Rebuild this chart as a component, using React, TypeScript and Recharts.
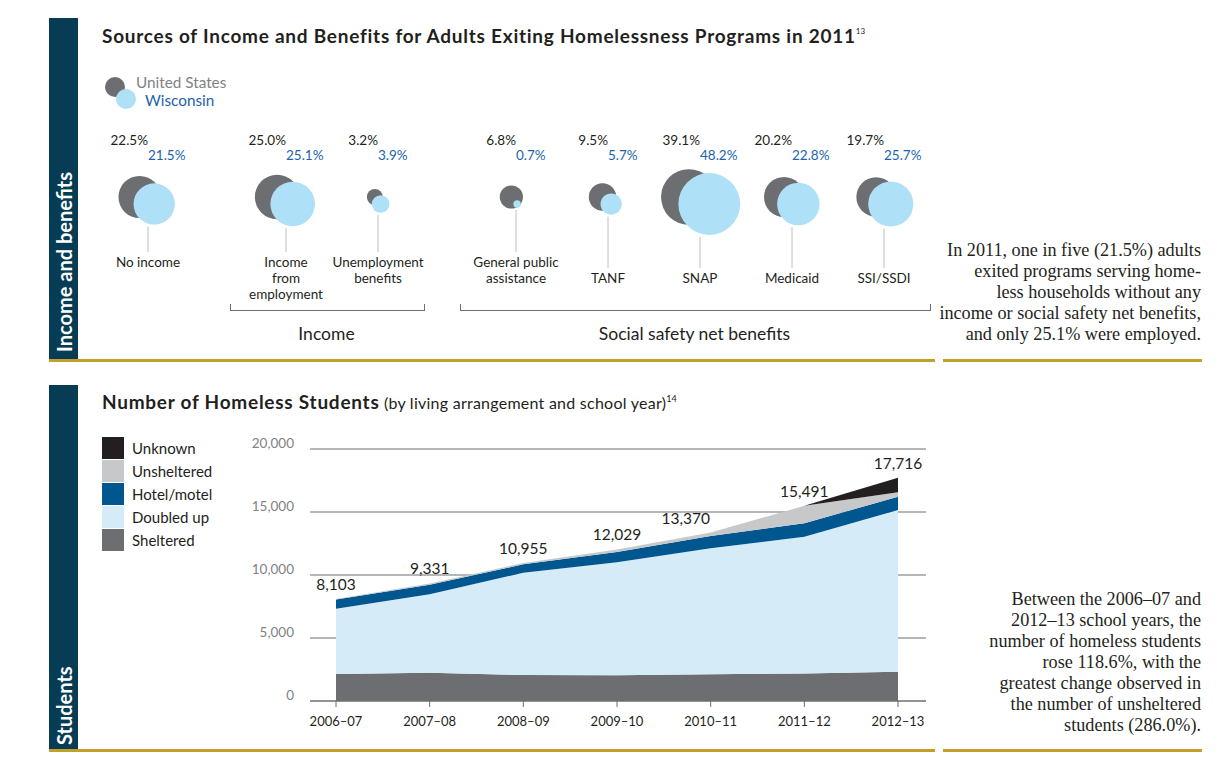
import React from 'react';
import {
  ScatterChart,
  Scatter,
  XAxis,
  YAxis,
  ZAxis,
  ComposedChart,
  Area,
  Line,
  LabelList,
  CartesianGrid,
} from 'recharts';

// --- Sources of income and benefits, 2011 (percent of adults exiting programs)
const CATEGORY_LINES = [
  ['No income'],
  ['Income', 'from', 'employment'],
  ['Unemployment', 'benefits'],
  ['General public', 'assistance'],
  ['TANF'],
  ['SNAP'],
  ['Medicaid'],
  ['SSI/SSDI'],
];
const CATEGORY_GROUP = [0, 1, 1, 2, 2, 2, 2, 2];
const GROUP_NAMES = ['', 'Income', 'Social safety net benefits'];
const US_PCT = [22.5, 25.0, 3.2, 6.8, 9.5, 39.1, 20.2, 19.7];
const WI_PCT = [21.5, 25.1, 3.9, 0.7, 5.7, 48.2, 22.8, 25.7];

// --- Homeless students by living arrangement and school year
const YEARS = ['2006–07', '2007–08', '2008–09', '2009–10', '2010–11', '2011–12', '2012–13'];
const SHELTERED = [2150, 2250, 2060, 2050, 2120, 2190, 2320];
const DOUBLED_UP = [5175, 6218, 8123, 8958, 9999, 10850, 12839];
const HOTEL_MOTEL = [730, 762, 666, 821, 976, 1063, 1055];
const UNSHELTERED = [48, 101, 106, 200, 275, 1388, 349];
const UNKNOWN = [0, 0, 0, 0, 0, 0, 1153];
const TOTALS = [8103, 9331, 10955, 12029, 13370, 15491, 17716];
const Y_TICKS = [0, 5000, 10000, 15000, 20000];

const TEAL = '#063c54';
const GOLD = '#c4a02b';
const INK = '#231f20';
const US_FILL = '#6d6e71';
const WI_FILL = '#aee0f7';
const WI_TEXT = '#1c63ad';

const SERIES = [
  { key: 'sheltered', name: 'Sheltered', color: '#6d6e71' },
  { key: 'doubled', name: 'Doubled up', color: '#d5ebf8' },
  { key: 'hotel', name: 'Hotel/motel', color: '#00568f' },
  { key: 'unsheltered', name: 'Unsheltered', color: '#c7c8ca' },
  { key: 'unknown', name: 'Unknown', color: '#231f20' },
];

const slotOf = (i: number) => i + 0.5 * CATEGORY_GROUP[i];
const usData = US_PCT.map((pct, i) => ({ slot: slotOf(i), row: 0.5, pct, idx: i }));
const wiData = WI_PCT.map((pct, i) => ({ slot: slotOf(i), row: 0.5, pct, idx: i }));

const studentData = YEARS.map((year, i) => ({
  year,
  sheltered: SHELTERED[i],
  doubled: DOUBLED_UP[i],
  hotel: HOTEL_MOTEL[i],
  unsheltered: UNSHELTERED[i],
  unknown: UNKNOWN[i],
  total: TOTALS[i],
}));

// bubble chart geometry (slot -> px), used for the brackets below the chart
const BUBBLE_LEFT = 148;
const SLOT_PX = 92;
const MAX_SLOT = slotOf(CATEGORY_LINES.length - 1);
const slotPx = (s: number) => BUBBLE_LEFT + SLOT_PX * s;

const pctText = (v: number) => `${v.toFixed(1)}%`;
const radiusOf = (p: any) =>
  p.width ? p.width / 2 : Math.sqrt(Math.max(p.size || 0, 0) / Math.PI);

const maxLines = (g: number) =>
  Math.max(...CATEGORY_LINES.filter((_, i) => CATEGORY_GROUP[i] === g).map((l) => l.length));

const UsBubble = (p: any) => {
  const r = radiusOf(p);
  return (
    <g>
      <circle cx={p.cx - 0.4 * r} cy={p.cy - 3} r={r} fill={US_FILL} />
      <text x={p.cx} y={p.cy - 55.5} textAnchor="end" fontSize={13.5} fill={INK}>
        {pctText(p.payload.pct)}
      </text>
    </g>
  );
};

const WiBubble = (p: any) => {
  const r = radiusOf(p);
  const i = p.payload.idx;
  const lines = CATEGORY_LINES[i];
  const g = CATEGORY_GROUP[i];
  const startRow = g === 2 ? maxLines(g) - lines.length : 0;
  const cx = p.cx;
  return (
    <g>
      <circle cx={cx + 0.3 * r} cy={p.cy + 4} r={r} fill={WI_FILL} />
      <text x={cx} y={p.cy - 40.5} textAnchor="start" fontSize={13.5} fill={WI_TEXT}>
        {pctText(p.payload.pct)}
      </text>
      <line
        x1={cx}
        x2={cx}
        y1={p.cy + 4 + r + 2}
        y2={p.cy + 52 + 16 * startRow}
        stroke="#bcbec0"
        strokeWidth={1}
      />
      <text x={cx} y={p.cy + 67 + 16 * startRow} textAnchor="middle" fontSize={13.5} fill={INK}>
        {lines.map((l, k) => (
          <tspan key={k} x={cx} dy={k === 0 ? 0 : 16}>
            {l}
          </tspan>
        ))}
      </text>
    </g>
  );
};

const YTick = ({ x, y, payload }: any) => (
  <text x={x} y={y - 6} textAnchor="end" dominantBaseline="central" fontSize={13.5} fill="#808285">
    {Number(payload.value).toLocaleString('en-US')}
  </text>
);

const TotalLabel = ({ x, y, value, index }: any) => {
  const dx = index === 4 ? -25 : 0;
  return (
    <text x={x + dx} y={y - 9} textAnchor="middle" fontSize={15.5} fill={INK}>
      {Number(value).toLocaleString('en-US')}
    </text>
  );
};

const abs = (s: React.CSSProperties): React.CSSProperties => ({ position: 'absolute', ...s });

const serif: React.CSSProperties = {
  fontFamily: '"Liberation Serif", "DejaVu Serif", serif',
  fontSize: 18.2,
  lineHeight: '21px',
  textAlign: 'right',
  color: INK,
  whiteSpace: 'nowrap',
};

const sideLabel: React.CSSProperties = {
  transform: 'rotate(-90deg)',
  transformOrigin: 'left top',
  color: '#fff',
  fontWeight: 700,
  fontSize: 20,
  lineHeight: '20px',
  whiteSpace: 'nowrap',
};

export default function App() {
  const brackets = [1, 2].map((g) => {
    const idx = CATEGORY_GROUP.map((gg, i) => (gg === g ? i : -1)).filter((i) => i >= 0);
    const x1 = slotPx(slotOf(idx[0])) - 56;
    const x2 = slotPx(slotOf(idx[idx.length - 1])) + 45;
    return { g, x1, x2 };
  });

  return (
    <div
      style={abs({
        left: 0,
        top: 0,
        width: 1232,
        height: 758,
        background: '#fff',
        fontFamily: 'Lato, "Open Sans", sans-serif',
        color: INK,
      })}
    >
      {/* ---------- top panel ---------- */}
      <div style={abs({ left: 49, top: 18, width: 29, height: 341, background: TEAL })} />
      <div style={abs({ left: 53.5, top: 352, ...sideLabel })}>Income and benefits</div>
      <div style={abs({ left: 49, top: 359, width: 886, height: 3, background: GOLD })} />
      <div style={abs({ left: 943, top: 359, width: 259, height: 3, background: GOLD })} />

      <div
        style={abs({
          left: 102,
          top: 25,
          fontSize: 19,
          letterSpacing: 0.75,
          fontWeight: 700,
          lineHeight: '22px',
          whiteSpace: 'nowrap',
        })}
      >
        Sources of Income and Benefits for Adults Exiting Homelessness Programs in 2011
        <span style={{ fontSize: 8, fontWeight: 400, letterSpacing: 0, position: 'relative', top: -9, marginLeft: 0 }}>
          13
        </span>
      </div>

      <svg style={abs({ left: 100, top: 70 })} width={40} height={45}>
        <circle cx={15} cy={17} r={10} fill={US_FILL} />
        <circle cx={26} cy={29} r={10} fill={WI_FILL} />
      </svg>
      <div style={abs({ left: 136, top: 73, fontSize: 15.3, lineHeight: '19px', color: '#808285' })}>United States</div>
      <div style={abs({ left: 145, top: 91, fontSize: 15.3, lineHeight: '19px', color: WI_TEXT })}>Wisconsin</div>

      <div style={abs({ left: 0, top: 0 })}>
        <ScatterChart
          width={1232}
          height={360}
          margin={{ top: 170, bottom: 130, left: BUBBLE_LEFT, right: 1232 - slotPx(MAX_SLOT) }}
        >
          <XAxis type="number" dataKey="slot" domain={[0, MAX_SLOT]} hide />
          <YAxis type="number" dataKey="row" domain={[0, 1]} hide />
          <ZAxis type="number" dataKey="pct" domain={[0, 50]} range={[0, Math.PI * 990]} />
          <Scatter data={usData} shape={UsBubble} isAnimationActive={false} />
          <Scatter data={wiData} shape={WiBubble} isAnimationActive={false} />
        </ScatterChart>
      </div>

      {brackets.map(({ g, x1, x2 }) => (
        <React.Fragment key={g}>
          <div
            style={abs({
              left: x1,
              top: 304,
              width: x2 - x1,
              height: 6,
              borderLeft: '1px solid #6d6e71',
              borderRight: '1px solid #6d6e71',
              borderBottom: '1px solid #6d6e71',
            })}
          />
          <div
            style={abs({
              left: x1,
              top: 323,
              width: x2 - x1,
              textAlign: 'center',
              fontSize: 17.5,
              lineHeight: '22px',
            })}
          >
            {GROUP_NAMES[g]}
          </div>
        </React.Fragment>
      ))}

      <div style={abs({ left: 880, top: 240, width: 321, ...serif })}>
        In 2011, one in five (21.5%) adults
        <br />
        exited programs serving home-
        <br />
        less households without any
        <br />
        income or social safety net benefits,
        <br />
        and only 25.1% were employed.
      </div>

      {/* ---------- bottom panel ---------- */}
      <div style={abs({ left: 49, top: 385, width: 29, height: 364, background: TEAL })} />
      <div style={abs({ left: 53.5, top: 745, ...sideLabel })}>Students</div>
      <div style={abs({ left: 49, top: 749, width: 886, height: 3, background: GOLD })} />
      <div style={abs({ left: 943, top: 749, width: 259, height: 3, background: GOLD })} />

      <div style={abs({ left: 102, top: 391, lineHeight: '22px', whiteSpace: 'nowrap' })}>
        <span style={{ fontSize: 19, fontWeight: 700, letterSpacing: 0.75 }}>Number of Homeless Students</span>
        <span style={{ fontSize: 16, letterSpacing: 0.25 }}> (by living arrangement and school year)</span>
        <span style={{ fontSize: 9, position: 'relative', top: -7 }}>14</span>
      </div>

      {[...SERIES].reverse().map((s, i) => (
        <React.Fragment key={s.key}>
          <div style={abs({ left: 102, top: 437 + 23 * i, width: 22, height: 22, background: s.color })} />
          <div style={abs({ left: 132, top: 437 + 23 * i, fontSize: 15, lineHeight: '22px' })}>{s.name}</div>
        </React.Fragment>
      ))}

      <div style={abs({ left: 230, top: 420 })}>
        <ComposedChart
          width={720}
          height={320}
          data={studentData}
          margin={{ top: 29, right: 24, bottom: 9, left: 20 }}
        >
          <CartesianGrid vertical={false} stroke="#6d6e71" strokeWidth={1} />
          <XAxis
            dataKey="year"
            padding={{ left: 26, right: 28 }}
            axisLine={{ stroke: '#6d6e71' }}
            tickLine={{ stroke: '#6d6e71' }}
            tickSize={6}
            tickMargin={10}
            height={30}
            tick={{ fontSize: 13, fill: INK }}
            interval={0}
          />
          <YAxis
            domain={[0, 20000]}
            ticks={Y_TICKS}
            axisLine={false}
            tickLine={false}
            tickSize={0}
            tickMargin={16}
            width={60}
            tick={<YTick />}
          />
          {SERIES.map((s) => (
            <Area
              key={s.key}
              type="linear"
              dataKey={s.key}
              name={s.name}
              stackId="students"
              fill={s.color}
              fillOpacity={1}
              stroke="none"
              isAnimationActive={false}
            />
          ))}
          <Line
            dataKey="total"
            stroke="none"
            dot={false}
            activeDot={false}
            isAnimationActive={false}
          >
            <LabelList dataKey="total" content={<TotalLabel />} />
          </Line>
        </ComposedChart>
      </div>

      <div style={abs({ left: 880, top: 589, width: 321, ...serif })}>
        Between the 2006–07 and
        <br />
        2012–13 school years, the
        <br />
        number of homeless students
        <br />
        rose 118.6%, with the
        <br />
        greatest change observed in
        <br />
        the number of unsheltered
        <br />
        students (286.0%).
      </div>
    </div>
  );
}
